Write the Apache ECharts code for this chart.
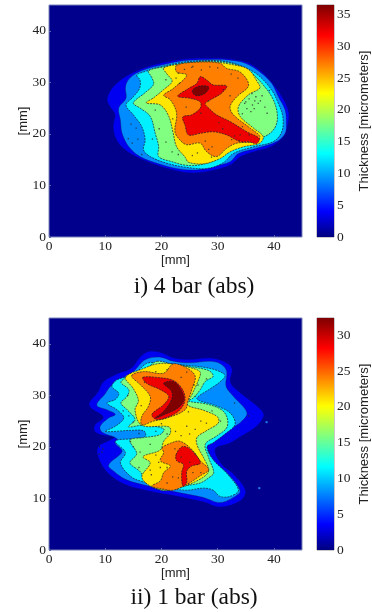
<!DOCTYPE html>
<html>
<head>
<meta charset="utf-8">
<title>Thickness maps</title>
<script src="https://cdn.jsdelivr.net/npm/echarts@6/dist/echarts.min.js"></script>
<style>
  html, body { margin: 0; padding: 0; background: #fff; }
  #chart { width: 372px; height: 612px; }
</style>
</head>
<body>
<div id="chart"></div>
<script>
// contour outlines, [mm, mm], lowest level first
const topBlue = [[10.4,26.6],[10.9,28.2],[12.1,29.8],[14.2,31.4],[16.8,32.7],[20.4,33.8],[24.5,34.5],[29.2,34.6],[32.8,34.4],[35.5,33.7],[38.1,31.7],[40.2,29.1],[41.7,26.6],[42.6,24.0],[42.4,21.7],[41.7,19.5],[39.3,17.5],[36.4,16.6],[34.0,15.6],[32.2,14.0],[29.2,13.0],[25.7,12.5],[22.7,12.9],[19.2,14.0],[15.6,15.6],[13.0,17.5],[11.8,19.5],[11.5,21.7],[11.8,23.7],[10.9,25.3]]
const topAzure = [[13.6,28.8],[13.7,26.9],[12.4,25.0],[12.7,22.7],[13.0,20.1],[14.2,17.5],[16.2,15.6],[19.2,14.3],[22.7,13.3],[26.3,13.0],[29.2,13.7],[32.2,14.6],[33.7,16.2],[36.9,17.2],[40.5,18.5],[42.0,20.1],[42.2,22.1],[42.0,24.6],[40.8,27.2],[39.6,29.8],[37.5,32.0],[34.9,33.7],[32.2,34.3],[28.1,34.4],[23.9,34.2],[19.8,33.3],[16.8,32.4],[15.0,31.4],[13.9,30.1]]
const topCyan = [[15.6,31.4],[16.2,30.4],[16.1,28.8],[15.0,27.2],[13.7,25.6],[15.0,23.7],[16.5,21.4],[17.1,18.8],[16.8,16.9],[18.0,15.6],[21.0,14.3],[24.5,13.5],[28.1,13.3],[31.0,14.4],[32.8,16.2],[36.4,17.5],[39.9,18.5],[41.4,20.4],[41.6,23.3],[40.8,25.9],[39.6,28.5],[37.2,31.4],[34.6,33.0],[31.6,34.0],[28.1,34.2],[23.9,33.9],[19.8,33.0],[16.8,32.0]]
const topGreen = [[17.7,32.2],[18.3,30.9],[18.6,29.6],[17.1,28.0],[15.0,26.0],[16.2,25.0],[18.0,23.4],[18.9,20.1],[19.5,17.6],[19.5,15.6],[21.9,14.6],[24.5,13.9],[26.9,14.0],[29.8,15.0],[31.6,16.7],[34.0,17.7],[36.9,18.8],[39.3,20.1],[40.4,21.7],[40.6,23.9],[39.9,26.6],[38.4,29.1],[35.8,32.0],[32.8,33.6],[28.7,34.1],[24.5,33.8],[20.4,33.0]]
const topYellow = [[20.4,32.8],[24.5,33.7],[28.7,34.0],[32.8,33.4],[35.5,32.5],[37.0,30.2],[37.5,28.9],[35.5,27.6],[33.7,25.3],[34.0,23.4],[36.4,21.1],[38.1,19.5],[37.5,18.2],[34.6,17.5],[32.2,16.5],[30.4,15.2],[27.5,14.2],[24.8,14.5],[24.2,15.5],[22.7,17.5],[22.1,20.1],[21.3,23.4],[19.8,25.6],[17.3,26.0],[18.6,27.0],[20.4,28.6],[21.9,30.2],[21.0,31.6]]
const topOrange = [[22.7,33.3],[26.3,33.9],[30.4,33.7],[31.6,32.7],[34.0,32.0],[35.5,29.4],[33.4,27.2],[32.2,25.3],[32.8,23.7],[35.8,21.1],[37.5,19.5],[36.9,18.5],[33.4,18.2],[31.6,17.2],[29.8,15.6],[28.0,16.6],[26.9,18.2],[24.5,17.9],[23.3,18.8],[22.4,20.4],[22.7,24.0],[21.6,26.6],[20.4,27.5],[22.1,28.8],[24.5,31.4],[22.7,32.0]]
const topRed = [[22.9,27.3],[24.8,28.8],[26.3,29.8],[26.9,31.1],[28.1,30.4],[29.2,29.5],[31.6,29.3],[30.7,27.9],[29.2,26.9],[27.8,25.9],[28.4,25.0],[29.8,23.7],[32.2,22.4],[35.2,20.4],[37.4,19.1],[36.9,18.1],[35.5,18.5],[34.0,18.5],[31.6,19.8],[29.2,20.4],[26.9,20.1],[24.8,19.8],[24.2,21.7],[23.8,23.3],[25.4,23.7],[26.9,25.0],[26.9,26.2],[25.1,26.9]]
const topDark = [[25.6,28.6],[26.9,29.3],[28.4,29.1],[27.8,27.9],[26.3,27.4],[25.6,27.9]]
const topSpecks = [[35.6,26.8],[36.2,25.6],[35.2,24.9],[36.8,27.2],[35.9,24.3],[36.5,24.9],[37.2,25.9],[36.1,27.8],[34.8,25.9],[37.6,26.4],[27.8,18.6],[29,17.5],[28.4,17],[24.1,32.5],[25.4,32.9],[23,31.8],[15.5,21.1],[14.1,19.1],[16.5,16],[22,22.9],[32.5,18.9],[34,19.8],[33,19.6],[30.2,22.2],[27,24],[20.8,30.5],[19.6,21],[23,16],[25.5,15.8],[38.8,24],[35,26.2],[36.6,26.4],[37.9,27.4],[38.4,25.2],[39.2,28.4],[34.4,23.9],[25.6,33.1],[27.1,32.4],[28.6,33],[30,32.8],[32.4,31.6],[33.6,30.8],[31,28.6],[32.2,27.4],[28.4,26.4],[24.4,25.2],[23.2,29.8],[22.6,30.8],[14.6,21.9],[15.8,19],[14.8,18.2],[18.4,19],[18.9,24.6],[20.8,18.4],[21.9,16.5],[26.4,16.3],[28.9,15.5],[33.8,18.7],[35.6,19.8],[30.9,21],[34.4,21.4]]

const botBlue = [[18.0,38.5],[20.0,38.2],[22.1,37.2],[25.1,36.9],[28.7,37.2],[31.3,36.4],[32.5,35.2],[32.2,32.6],[33.4,31.0],[36.4,28.4],[38.1,26.5],[37.8,25.2],[36.4,23.6],[34.0,22.0],[32.2,20.8],[29.5,19.6],[30.7,16.6],[32.8,14.7],[34.9,11.5],[34.0,9.6],[30.4,8.4],[27.5,9.4],[23.3,10.4],[17.4,11.6],[13.3,12.9],[10.3,15.2],[8.8,18.1],[8.8,20.0],[10.9,21.3],[11.8,21.9],[9.7,22.3],[8.2,23.0],[8.2,24.2],[9.7,25.8],[7.2,28.1],[8.8,30.7],[9.7,32.6],[12.1,34.1],[14.5,35.1],[16.5,37.7]]
const botAzure = [[17.1,36.9],[19.8,37.4],[22.1,36.6],[25.1,36.3],[28.7,36.6],[30.7,36.0],[31.6,34.6],[31.5,31.7],[32.8,29.8],[35.2,26.6],[34.0,24.7],[31.6,23.1],[30.1,21.8],[28.7,20.8],[28.1,19.9],[29.5,17.0],[31.9,14.7],[34.0,11.5],[33.1,10.4],[30.4,9.2],[27.5,10.2],[23.8,11.0],[17.7,12.4],[13.6,13.7],[11.5,15.3],[10.6,16.5],[13.0,19.1],[11.8,20.7],[12.1,21.6],[9.4,22.9],[9.1,24.0],[10.6,25.6],[11.8,26.3],[10.3,27.2],[8.5,28.1],[10.0,30.3],[10.9,31.7],[13.0,33.3],[15.0,34.6]]
const botCyan = [[19.5,36.3],[22.7,36.0],[28.7,35.2],[31.3,33.9],[30.4,32.6],[28.7,31.3],[26.3,29.5],[26.9,28.9],[29.2,28.2],[32.2,26.6],[33.1,24.4],[31.3,22.5],[29.2,20.8],[28.1,20.0],[29.2,17.5],[31.6,14.9],[33.7,11.6],[32.2,10.4],[30.4,10.4],[29.2,11.6],[27.5,12.0],[24.5,11.6],[21.5,12.0],[16.5,13.3],[14.5,14.3],[12.7,16.9],[13.6,18.9],[11.8,21.1],[15.0,21.6],[17.1,22.0],[16.9,23.1],[14.5,23.2],[10.0,23.0],[11.8,24.0],[13.3,25.6],[12.1,27.2],[10.3,28.5],[11.8,29.2],[12.4,30.4],[11.2,31.7],[12.1,33.0],[15.0,34.0],[17.4,36.2]]
const botGreen = [[19.2,36.6],[22.1,36.0],[24.8,35.6],[28.4,34.8],[29.2,33.7],[27.8,32.7],[26.9,31.1],[25.7,29.5],[24.8,28.9],[28.1,28.3],[30.7,27.2],[31.7,25.6],[31.6,23.7],[29.8,22.1],[27.8,20.5],[28.4,17.9],[29.3,15.0],[28.4,14.0],[26.9,13.0],[23.9,12.4],[20.4,11.5],[17.4,13.1],[16.2,15.2],[14.4,16.9],[15.6,18.7],[14.4,21.3],[16.8,21.8],[19.8,22.4],[20.4,23.5],[16.8,24.2],[14.1,23.9],[15.3,25.3],[13.9,27.2],[12.8,28.5],[13.9,29.8],[14.2,31.1],[12.8,32.6],[15.0,34.0],[17.4,35.2]]
const botYellow = [[13.6,33.5],[16.8,35.2],[19.2,36.1],[21.8,36.1],[25.7,35.2],[26.9,34.5],[26.6,33.0],[25.4,30.1],[24.6,28.2],[27.5,27.1],[30.0,25.8],[30.1,24.6],[28.1,23.2],[26.3,21.8],[26.4,20.2],[27.5,17.9],[28.4,15.7],[28.1,14.7],[26.3,13.4],[23.3,12.1],[20.4,11.7],[18.0,12.4],[16.5,14.2],[18.0,16.9],[16.7,18.1],[19.8,19.4],[20.4,21.1],[21.6,22.7],[21.3,23.9],[16.5,24.2],[15.3,27.1],[15.9,29.0],[15.0,31.3]]
const botOrangeUpper = [[14.7,33.8],[16.8,34.6],[20.4,34.3],[22.1,36.1],[24.5,35.3],[26.0,33.7],[25.4,31.1],[24.8,29.2],[24.2,27.2],[21.0,25.6],[18.6,25.0],[16.5,24.3],[16.5,25.9],[17.7,27.9],[18.0,29.8],[16.2,32.1]]
const botOrangeLower = [[20.1,19.8],[21.6,20.7],[23.3,21.1],[25.4,19.5],[26.9,17.3],[28.4,15.6],[26.9,14.4],[24.5,12.7],[22.1,11.6],[20.4,11.8],[18.3,12.4],[19.8,13.4],[20.4,15.0],[21.6,16.3],[19.8,17.3],[20.4,18.9]]
const botRedUpper = [[16.7,33.5],[19.8,33.4],[22.1,32.9],[23.6,31.4],[24.2,29.2],[23.3,27.2],[21.6,26.0],[19.2,25.3],[18.3,26.3],[20.4,28.2],[21.3,29.8],[19.8,31.1],[17.4,32.3]]
const botRedLower = [[22.6,18.5],[23.6,20.0],[24.8,19.8],[26.3,18.2],[26.9,16.8],[25.4,16.3],[24.5,15.3],[24.5,13.1],[23.8,12.4],[23.6,15.0],[23.9,16.6],[22.7,17.3]]
const botDark = [[20.4,32.3],[22.1,32.7],[23.3,31.4],[24.0,29.2],[23.0,27.6],[21.0,26.5],[18.9,25.6],[20.4,26.9],[21.8,29.2],[21.8,30.8]]
const botSpecks = [[9,20],[9.4,19],[8.9,18.6],[9.6,19.6],[16,16],[14.5,21],[18,20.5],[20,24.5],[22.5,23],[24.5,24],[25,22.5],[21,22.5],[27,25],[26.5,32],[24.5,34.5],[14,30],[13.2,27],[28.5,19],[19.5,17],[21,16],[23,14],[23.5,18],[25,17],[21,13],[35.5,26],[33,28.5],[18,15.5],[17,32.5],[19,34.6],[21,35],[23.5,33.5],[25.8,32],[28,33.2],[26,29.8],[24.8,26.8],[29,27],[30.5,25],[28,24.6],[23.5,22.2],[26,23.4],[19,23],[16,22.6],[15,24.8],[16.4,28],[14.2,26],[15,20],[16.2,19],[19,18.4],[19.8,16],[18.2,14.6],[22,14.2],[24.8,12.8],[27,15],[25.6,15],[26,18.6],[22.4,19.6]]
const botStray = [[38.7,24.8],[37.4,12.0]]

const topPolys = [topBlue, topAzure, topCyan, topGreen, topYellow, topOrange, topRed, topDark]
const topFills = ['#0000f0', '#008cff', '#00f0ff', '#80ff80', '#ffe600', '#ff8000', '#ee0000', '#800000']
const botPolys = [botBlue, botAzure, botCyan, botGreen, botYellow, botOrangeUpper, botOrangeLower, botRedUpper, botRedLower, botDark]
const botFills = ['#0000f0', '#008cff', '#00f0ff', '#80ff80', '#ffe600', '#ff8000', '#ff8000', '#ee0000', '#ee0000', '#800000']

const xTicksInterval = 10
const barInterval = 5
const topBarMax = 36.5
const botBarMax = 32.4
const jetStops = ['#00007f', '#0000ff', '#00ffff', '#ffff00', '#ff0000', '#7f0000']
const jetOffsets = [0, 0.11, 0.36, 0.62, 0.87, 1]

const tickFont = { fontFamily: 'Liberation Serif', fontSize: 13.5, color: '#222' }
const nameFont = { fontFamily: 'Liberation Sans', fontSize: 13, color: '#222' }

function mapAxes(gridIndex) {
  const x = {
    type: 'value', gridIndex, min: 0, max: 45, interval: xTicksInterval,
    name: '[mm]', nameLocation: 'middle', nameGap: 17, nameMoveOverlap: false, nameTextStyle: nameFont,
    axisLine: { show: false }, splitLine: { show: false },
    axisTick: { inside: true, length: 2, lineStyle: { color: '#5a66a8' } },
    axisLabel: { ...tickFont, margin: 2, showMaxLabel: false }
  }
  const y = {
    type: 'value', gridIndex, min: 0, max: 45, interval: xTicksInterval,
    name: '[mm]', nameLocation: 'middle', nameGap: 19, nameMoveOverlap: false, nameTextStyle: nameFont,
    axisLine: { show: false }, splitLine: { show: false },
    axisTick: { inside: true, length: 2, lineStyle: { color: '#5a66a8' } },
    axisLabel: { ...tickFont, margin: 3, showMaxLabel: false }
  }
  return [x, y]
}

function barAxes(gridIndex, max) {
  const x = { type: 'value', gridIndex, min: 0, max: 1, show: false }
  const y = {
    type: 'value', gridIndex, min: 0, max, interval: barInterval, position: 'right',
    name: 'Thickness [micrometers]', nameLocation: 'middle', nameGap: 24, nameMoveOverlap: false, nameRotate: 90,
    nameTextStyle: nameFont,
    axisLine: { show: false }, splitLine: { show: false },
    axisTick: { show: false },
    axisLabel: { ...tickFont, margin: 3, showMaxLabel: false }
  }
  return [x, y]
}

function contourSeries(axisIndex, polys, fills) {
  return {
    type: 'custom', xAxisIndex: axisIndex, yAxisIndex: axisIndex, clip: true, silent: true,
    data: polys.map((p, i) => [i]),
    renderItem(params, api) {
      const i = api.value(0)
      return {
        type: 'polygon',
        shape: { points: polys[i].map(p => api.coord(p)), smooth: 0.35 },
        style: {
          fill: fills[i],
          stroke: i === 0 ? fills[i] : '#1c1c2c',
          lineWidth: i < 2 ? 0.3 : 0.7,
          lineDash: i < 2 ? null : [2, 1]
        }
      }
    }
  }
}

function speckSeries(axisIndex, data, color, size) {
  return {
    type: 'scatter', xAxisIndex: axisIndex, yAxisIndex: axisIndex, silent: true,
    symbol: 'rect', symbolSize: size, itemStyle: { color }, data
  }
}

function barSeries(axisIndex, max) {
  return {
    type: 'custom', xAxisIndex: axisIndex, yAxisIndex: axisIndex, silent: true,
    data: [[0, max]],
    renderItem(params, api) {
      const a = api.coord([0, 0])
      const b = api.coord([1, api.value(1)])
      return {
        type: 'rect',
        shape: { x: a[0], y: b[1], width: b[0] - a[0], height: a[1] - b[1] },
        style: {
          fill: new echarts.graphic.LinearGradient(0, 1, 0, 0,
            jetStops.map((color, k) => ({ offset: jetOffsets[k], color })))
        }
      }
    }
  }
}

const [x0, y0] = mapAxes(0)
const [x1, y1] = barAxes(1, topBarMax)
const [x2, y2] = mapAxes(2)
const [x3, y3] = barAxes(3, botBarMax)

const myChart = echarts.init(document.getElementById('chart'), null, { renderer: 'canvas' })
myChart.setOption({
  animation: false,
  title: [
    { text: 'i) 4 bar (abs)', left: 189, top: 270, textAlign: 'center', textStyle: { fontFamily: 'Liberation Serif', fontSize: 23.5, fontWeight: 'normal', color: '#111' } },
    { text: 'ii) 1 bar (abs)', left: 189, top: 581, textAlign: 'center', textStyle: { fontFamily: 'Liberation Serif', fontSize: 23.5, fontWeight: 'normal', color: '#111' } }
  ],
  grid: [
    { left: 49, top: 5, width: 253, height: 232, show: true, backgroundColor: '#00008c', borderColor: '#7a84b8', borderWidth: 1 },
    { left: 317, top: 5, width: 22, height: 232, show: true, backgroundColor: '#fff', borderColor: '#9a8f95', borderWidth: 1 },
    { left: 49, top: 318, width: 253, height: 232, show: true, backgroundColor: '#00008c', borderColor: '#7a84b8', borderWidth: 1 },
    { left: 317, top: 318, width: 22, height: 232, show: true, backgroundColor: '#fff', borderColor: '#9a8f95', borderWidth: 1 }
  ],
  xAxis: [x0, x1, x2, x3],
  yAxis: [y0, y1, y2, y3],
  series: [
    contourSeries(0, topPolys, topFills),
    speckSeries(0, topSpecks, '#2a2a2a', 1.3),
    barSeries(1, topBarMax),
    contourSeries(2, botPolys, botFills),
    speckSeries(2, botSpecks, '#2a2a2a', 1.3),
    speckSeries(2, botStray, '#2aa0ff', 2),
    barSeries(3, botBarMax)
  ]
})
</script>
</body>
</html>
